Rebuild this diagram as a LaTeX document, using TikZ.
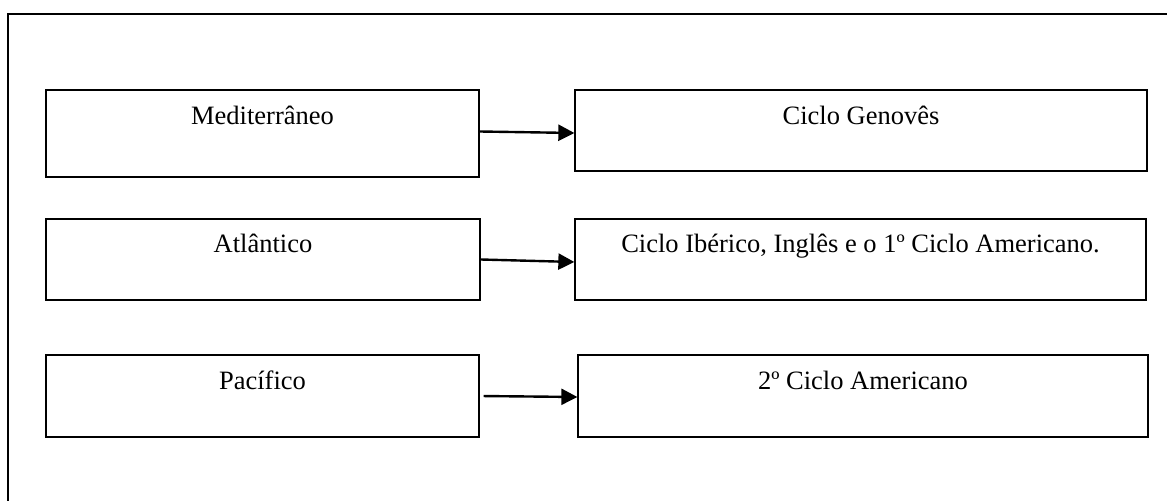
\documentclass[tikz,border=0pt]{standalone}
\usepackage{fontspec}
\setmainfont{Liberation Serif}
\usetikzlibrary{arrows.meta, positioning}
\tikzset{>={Triangle[length=8pt, width=8pt]}}

\begin{document}
\begin{tikzpicture}[x=0.5pt, y=-0.5pt,
    caixa/.style={draw, line width=0.65pt, inner sep=0pt, text height=17.5pt, text depth=23.5pt,
      font=\fontsize{13.25}{16}\selectfont},
    seta/.style={->, line width=1.2pt}]
    \useasboundingbox (0,0) rectangle (1167,501);
    \draw[line width=0.7pt] (8,14) rectangle (1180,520);

    \node[caixa, minimum width=216.5pt, text depth=26pt]	(med)	at	(262.5,133.5)	{Mediterrâneo};
    \node[caixa, minimum width=286pt, text depth=23pt]	(gen)	at	(861,130.5)	{Ciclo Genovês};
    \node[caixa, minimum width=217pt, text height=17pt]	(atl)	at	(263,259.5)	{Atlântico};
    \node[caixa, minimum width=285.5pt, text height=17pt]	(ibe)	at	(860.5,259.5)	{Ciclo Ibérico, Inglês e o 1º Ciclo Americano.};
    \node[caixa, minimum width=216.5pt]	(pac)	at	(262.5,396)	{Pacífico};
    \node[caixa, minimum width=285pt]	(ame)	at	(863,396)	{2º Ciclo Americano};

    \draw[seta] ([yshift=1pt]med.east) -- ([yshift=-1.25pt]gen.west);
    \draw[seta] (atl.east) -- ([yshift=-1.25pt]ibe.west);
    \draw[seta, shorten <=2pt] (pac.east) -- ([yshift=-0.5pt]ame.west);
\end{tikzpicture}
\end{document}
